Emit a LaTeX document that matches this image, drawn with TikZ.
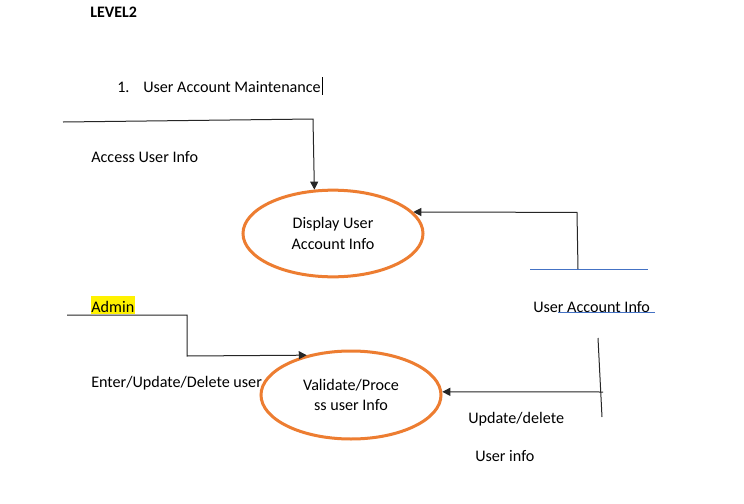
\documentclass[tikz,border=0pt]{standalone}
\usepackage{fontspec}
\setmainfont{Carlito}
\usetikzlibrary{arrows.meta,shapes.geometric}
\definecolor{procorange}{RGB}{237,125,49}
\definecolor{storeblue}{RGB}{68,114,196}
\begin{document}
\begin{tikzpicture}[x=0.75pt,y=-0.75pt,
  lbl/.style={anchor=base west,inner sep=0pt,font=\fontsize{12.1}{14}\selectfont},
  proc/.style={ellipse,draw=procorange,line width=2.25pt,align=center,
    font=\fontsize{12.1}{15.2}\selectfont,inner sep=0pt},
  flow/.style={draw=black!85,line width=0.75pt},
  arr/.style={flow,-{Triangle[length=6pt,width=6pt]}},
  storeline/.style={draw=storeblue,line width=0.75pt}]
\useasboundingbox (0,0) rectangle (744,504);
\fill[white] (0,0) rectangle (744,504);

% titles
\node[lbl,font=\fontsize{12}{14}\selectfont\bfseries] (lvl) at (90,17) {LEVEL2};
\node[lbl] (num) at (117,92) {1.};
\node[lbl] (title) at (143,92) {User Account Maintenance};
\coordinate (cur1) at (322,77);
\coordinate (cur2) at (322,95);
\draw[line width=0.75pt] (cur1) -- (cur2);

% processes
\node[proc,minimum width=135pt,minimum height=65pt] (disp) at (333,233.5)
  {Display User\\Account Info};
\node[proc,minimum width=135pt,minimum height=66pt] (valid) at (351,395)
  {Validate/Proce\\ss user Info};

% top-left flow
\coordinate (a1) at (63,122);
\coordinate (a2) at (313,119);
\draw[arr] (a1) -- (a2) -- (disp.113);
\node[lbl] (acc) at (91,162) {Access User Info};

% data store (top right)
\coordinate (s1) at (530,269);
\coordinate (s2) at (648,269);
\draw[storeline] (s1) -- (s2);
\coordinate (b1) at (578,269);
\coordinate (b2) at (577,212.4);
\draw[arr] (b1) -- (b2) -- (disp.15);
\node[lbl] (uai) at (533,312) {User Account Info};
\coordinate (u1) at (558,312.5);
\coordinate (u2) at (655,312.5);
\draw[storeline] (u1) -- (u2);

% admin flow
\node[lbl,fill=yellow,inner xsep=0.4pt,inner ysep=0pt,text height=12pt,text depth=1.5pt] (admin) at (90.6,312) {Admin};
\coordinate (c1) at (67,315);
\coordinate (c2) at (187,315);
\coordinate (c3) at (187,356);
\draw[arr] (c1) -- (c2) -- (c3) -- (valid.138);
\node[lbl] (edu) at (91,387) {Enter/Update/Delete user};

% right store and update flow
\coordinate (d1) at (598,338);
\coordinate (d2) at (602,417);
\draw[flow] (d1) -- (d2);
\coordinate (e1) at (603,392);
\draw[arr] (e1) -- (valid.2);
\node[lbl] (upd) at (468,423) {Update/delete};
\node[lbl] (uinfo) at (475,461) {User info};
\end{tikzpicture}
\end{document}
